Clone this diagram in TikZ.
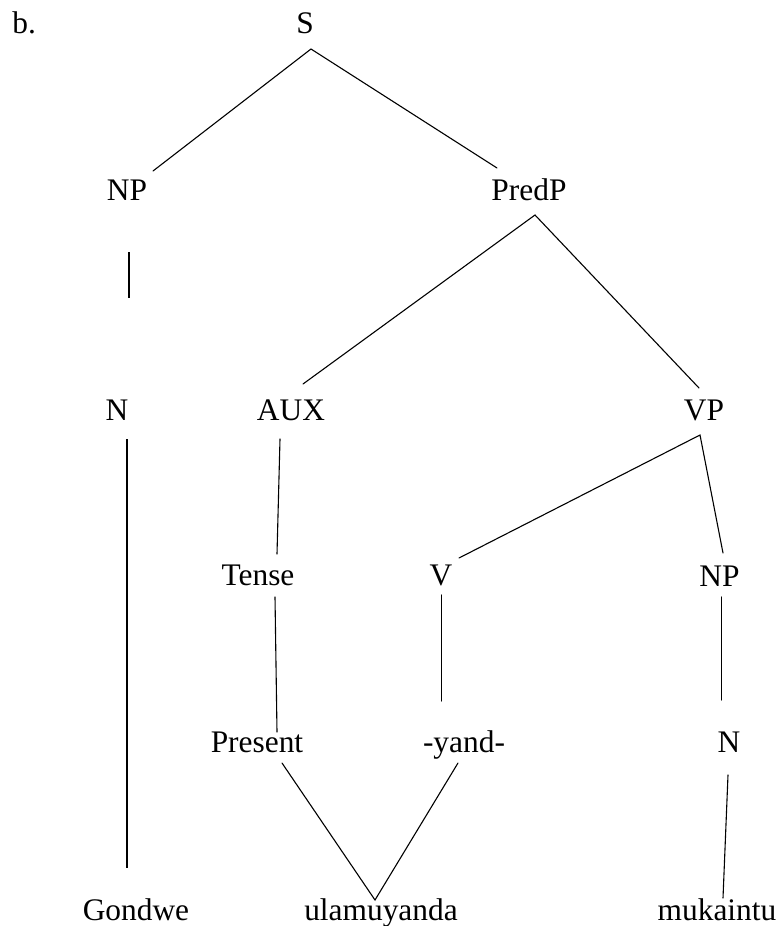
\documentclass[tikz,border=0pt]{standalone}
\usepackage{fontspec}
\setmainfont{Liberation Serif}
\begin{document}
\begin{tikzpicture}[x=0.5pt,y=-0.5pt,
  lbl/.style={inner sep=0pt,anchor=base,font=\fontsize{15.7}{18}\selectfont},
  br/.style={line width=0.55pt,line cap=round},
  thickbr/.style={line width=1pt}]
\useasboundingbox (0,0) rectangle (780,926);
% labels
\node[lbl,anchor=base west] (b) at (12,33) {b.};
\node[lbl] (S) at (305,33) {S};
\node[lbl] (NP1) at (127,200) {NP};
\node[lbl] (PredP) at (529,200) {PredP};
\node[lbl] (N1) at (117,420) {N};
\node[lbl] (AUX) at (291,420) {AUX};
\node[lbl] (VP) at (704,420) {VP};
\node[lbl] (Tense) at (258,585) {Tense};
\node[lbl] (V) at (441,585) {V};
\node[lbl] (NP2) at (719.5,586) {NP};
\node[lbl] (Present) at (257,752) {Present};
\node[lbl] (yand) at (464,752) {-yand-};
\node[lbl] (N2) at (729,752) {N};
\node[lbl] (Gondwe) at (136,920) {Gondwe};
\node[lbl] (ulam) at (381,920) {ulamuyanda};
\node[lbl] (muka) at (717,920) {mukaintu};
% branch end points
\coordinate (S-b) at (311,49);
\coordinate (NP1-t) at (153,171);
\coordinate (PredP-t) at (497,168);
\coordinate (NP1-b) at (129,252);
\coordinate (NP1-e) at (129,298);
\coordinate (PredP-b) at (535,215);
\coordinate (AUX-t) at (303,384);
\coordinate (VP-t) at (699,388);
\coordinate (N1-b) at (127,439);
\coordinate (Gondwe-t) at (127,868);
\coordinate (AUX-b) at (280,439);
\coordinate (Tense-t) at (277,554);
\coordinate (VP-b) at (700,435);
\coordinate (V-t) at (459,558);
\coordinate (NP2-t) at (723,553);
\coordinate (Tense-b) at (275,597);
\coordinate (Present-t) at (277,732);
\coordinate (V-b) at (441.5,595);
\coordinate (yand-t) at (441.5,701);
\coordinate (NP2-b) at (721.5,597);
\coordinate (N2-t) at (721.5,700);
\coordinate (Present-b) at (282,763);
\coordinate (yand-b) at (458,763);
\coordinate (ulam-t) at (375,900);
\coordinate (N2-b) at (728,775);
\coordinate (muka-t) at (723,898);
% branches
\draw[br] (NP1-t) -- (S-b) -- (PredP-t);
\draw[thickbr] (NP1-b) -- (NP1-e);
\draw[br] (AUX-t) -- (PredP-b) -- (VP-t);
\draw[thickbr] (N1-b) -- (Gondwe-t);
\draw[br] (AUX-b) -- (Tense-t);
\draw[br] (V-t) -- (VP-b) -- (NP2-t);
\draw[br] (Tense-b) -- (Present-t);
\draw[br] (V-b) -- (yand-t);
\draw[br] (NP2-b) -- (N2-t);
\draw[br] (Present-b) -- (ulam-t) -- (yand-b);
\draw[br] (N2-b) -- (muka-t);
\end{tikzpicture}
\end{document}
